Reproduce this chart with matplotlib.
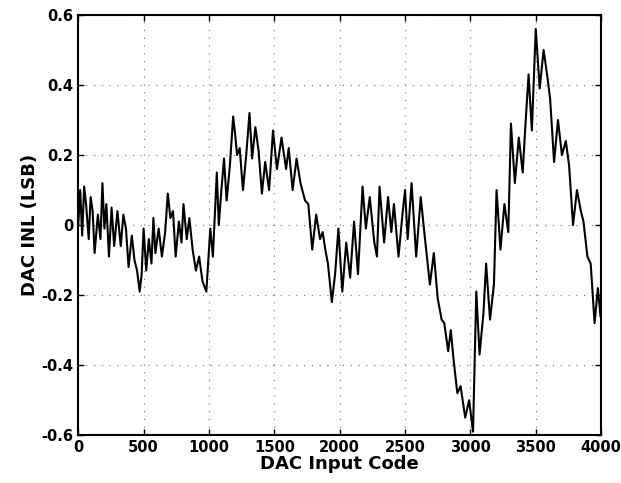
import matplotlib
matplotlib.use("Agg")
import matplotlib.pyplot as plt

# INL trace (code, LSB)
codes = [0, 15, 30, 45, 60, 80, 95, 110, 125, 150, 170, 185, 200, 215, 235, 255, 275,
         300, 325, 345, 365, 385, 410, 430, 450, 470, 485, 500, 520, 540, 560, 575, 590,
         615, 640, 665, 685, 705, 725, 745, 770, 790, 805, 830, 850, 875, 900, 925, 950,
         980, 995, 1010, 1030, 1060, 1075, 1095, 1115, 1135, 1160, 1185, 1200, 1215, 1235,
         1260, 1285, 1310, 1330, 1355, 1380, 1405, 1430, 1460, 1490, 1520, 1555, 1590,
         1610, 1640, 1670, 1700, 1735, 1760, 1790, 1820, 1850, 1870, 1890, 1910, 1940,
         1965, 1990, 2020, 2050, 2080, 2110, 2140, 2175, 2200, 2230, 2265, 2285, 2305,
         2340, 2370, 2395, 2415, 2450, 2480, 2500, 2520, 2550, 2585, 2620, 2650, 2690,
         2720, 2750, 2780, 2800, 2830, 2850, 2870, 2900, 2925, 2960, 2990, 3020, 3045,
         3070, 3100, 3120, 3150, 3180, 3200, 3230, 3260, 3290, 3310, 3340, 3370, 3400,
         3420, 3445, 3470, 3500, 3530, 3560, 3590, 3610, 3640, 3670, 3700, 3730, 3755,
         3785, 3815, 3845, 3865, 3895, 3920, 3950, 3975, 3995]
inl = [0.0, 0.10, -0.03, 0.11, 0.06, -0.04, 0.08, 0.04, -0.08, 0.03, -0.04, 0.12, -0.01,
       0.06, -0.09, 0.05, -0.06, 0.04, -0.06, 0.03, -0.01, -0.12, -0.03, -0.10, -0.13,
       -0.19, -0.14, -0.01, -0.13, -0.04, -0.11, 0.02, -0.08, -0.01, -0.09, -0.02, 0.09,
       0.02, 0.04, -0.09, 0.01, -0.05, 0.06, -0.04, 0.02, -0.07, -0.13, -0.09, -0.16,
       -0.19, -0.10, -0.01, -0.09, 0.15, 0.0, 0.10, 0.19, 0.07, 0.17, 0.31, 0.26, 0.20,
       0.22, 0.10, 0.20, 0.32, 0.19, 0.28, 0.21, 0.09, 0.18, 0.10, 0.27, 0.16, 0.25, 0.16,
       0.22, 0.10, 0.19, 0.12, 0.07, 0.06, -0.07, 0.03, -0.04, -0.02, -0.07, -0.11, -0.22,
       -0.14, -0.01, -0.19, -0.05, -0.15, 0.01, -0.14, 0.11, -0.01, 0.08, -0.05, -0.09,
       0.11, -0.05, 0.08, -0.02, 0.06, -0.09, 0.03, 0.10, -0.04, 0.12, -0.09, 0.08, -0.03,
       -0.17, -0.08, -0.21, -0.27, -0.28, -0.36, -0.30, -0.38, -0.48, -0.46, -0.55, -0.50,
       -0.59, -0.19, -0.37, -0.25, -0.11, -0.27, -0.17, 0.10, -0.07, 0.06, -0.02, 0.29,
       0.12, 0.25, 0.15, 0.28, 0.43, 0.27, 0.56, 0.39, 0.50, 0.42, 0.36, 0.18, 0.30, 0.20,
       0.24, 0.17, 0.0, 0.10, 0.04, 0.01, -0.09, -0.11, -0.28, -0.18, -0.26]

xticks = [0, 500, 1000, 1500, 2000, 2500, 3000, 3500, 4000]
yticks = [-0.6, -0.4, -0.2, 0, 0.2, 0.4, 0.6]
ytick_labels = ["-0.6", "-0.4", "-0.2", "0", "0.2", "0.4", "0.6"]

fig = plt.figure(figsize=(6.21, 4.83), dpi=100)
ax = fig.add_axes([0.126, 0.099, 0.842, 0.870])

ax.plot(codes, inl, color="black", linewidth=1.5)

ax.set_xlim(0, 4000)
ax.set_ylim(-0.6, 0.6)
ax.set_xticks(xticks)
ax.set_yticks(yticks)
ax.set_yticklabels(ytick_labels)
ax.tick_params(direction="in", top=True, right=True, length=4, width=1,
               labelsize=10.5)
for lab in ax.get_xticklabels() + ax.get_yticklabels():
    lab.set_fontweight("bold")
for sp in ax.spines.values():
    sp.set_linewidth(1.5)

# sparse dotted grid like the old plot
ax.grid(True, color="0.45", linestyle=(0, (1, 6)), linewidth=0.8)

ax.set_xlabel("DAC Input Code", fontsize=13, fontweight="bold", labelpad=0)
ax.set_ylabel("DAC INL (LSB)", fontsize=13, fontweight="bold", labelpad=2)

fig.savefig("out.png", dpi=100)
